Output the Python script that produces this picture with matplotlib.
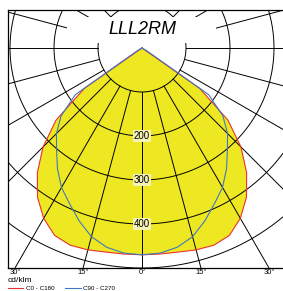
import numpy as np
import matplotlib
matplotlib.use("Agg")
import matplotlib.pyplot as plt
from matplotlib.patches import Rectangle, Polygon
from matplotlib.lines import Line2D
import matplotlib.transforms as mtransforms

plt.rcParams['font.family'] = ['Liberation Sans', 'DejaVu Sans']

# ---- data (cd/klm) ----
title = "LLL2RM"
gamma = [0, 5, 10, 15, 20, 25, 30, 35, 40, 45, 50, 55, 60, 65, 70, 75, 80, 85, 90,
         95, 100, 105, 110, 115, 120, 125, 130, 135, 140, 145, 150, 155, 160, 165, 170, 175, 180]
c0_c180 = [470, 470, 471, 475, 477, 470, 447, 414, 370, 318, 255, 160, 0, 0, 0, 0, 0, 0, 0,
           0, 0, 0, 0, 0, 0, 0, 0, 0, 0, 0, 0, 0, 0, 0, 0, 0, 0]
c90_c270 = [470, 468, 460, 444, 418, 390, 366, 335, 302, 275, 240, 185, 12, 0, 0, 0, 0, 0, 0,
            0, 0, 0, 0, 0, 0, 0, 0, 0, 0, 0, 0, 0, 0, 0, 0, 0, 0]
circle_values = [100, 200, 300, 400, 500]
circle_labels = [200, 300, 400]
bottom_angles = [-30, -15, 0, 15, 30]
unit_label = "cd/klm"
legend_labels = ["C0 - C180", "C90 - C270"]

W, H = 283, 291
fig = plt.figure(figsize=(W / 100, H / 100), dpi=100)

cx, cy = 142, 48          # pixel position of the luminaire centre
PX = 100 / 44.0            # cd/klm per pixel
l_px, r_px, t_px, b_px = 8, 286, 10, 268
ax = fig.add_axes([l_px / W, 1 - b_px / H, (r_px - l_px) / W, (b_px - t_px) / H])
ax.set_xlim((l_px - cx) * PX, (r_px - cx) * PX)
ax.set_ylim(-(b_px - cy) * PX, (cy - t_px) * PX)
ax.set_xticks([])
ax.set_yticks([])
for s in ['left', 'top', 'bottom']:
    ax.spines[s].set_linewidth(0.9)
    ax.spines[s].set_color('black')
ax.spines['right'].set_visible(False)

g = np.radians(np.array(gamma, dtype=float))

def curve(vals):
    v = np.array(vals, dtype=float)
    xl = -v[::-1] * np.sin(g[::-1])
    yl = -v[::-1] * np.cos(g[::-1])
    xr = v[1:] * np.sin(g[1:])
    yr = -v[1:] * np.cos(g[1:])
    return np.concatenate([xl, xr]), np.concatenate([yl, yr])

# fill
xr_, yr_ = curve(c0_c180)
ax.add_patch(Polygon(np.column_stack([xr_, yr_]), closed=True, fc='#eee822', ec='none', zorder=1))

# grid
t = np.linspace(0, 2 * np.pi, 720)
for r in circle_values:
    ax.plot(r * np.sin(t), r * np.cos(t), color='black', lw=0.7, zorder=2)
for a in range(0, 360, 15):
    ar = np.radians(a)
    ax.plot([100 * np.sin(ar), 2000 * np.sin(ar)], [-100 * np.cos(ar), -2000 * np.cos(ar)],
            color='black', lw=0.7, zorder=2)

# title mask
ax.add_patch(Rectangle(((67 - cx) * PX, (cy - 43) * PX), (216 - 67) * PX, (43 - 17) * PX,
                       fc='white', ec='none', zorder=3))
ax.text(0, (cy - 30) * PX, title, ha='center', va='center', fontsize=13, style='italic', zorder=6)

# curves
ax.plot(xr_, yr_, color='#e8322e', lw=0.8, zorder=4)
xb, yb = curve(c90_c270)
ax.plot(xb, yb, color='#3f78c0', lw=0.8, zorder=4)

for v in circle_labels:
    ax.text(0, -v, str(v), ha='center', va='center', fontsize=7, zorder=6,
            bbox=dict(boxstyle='square,pad=0.12', fc='#f6f3b6', ec='none'))

# bottom angle labels
trans = mtransforms.blended_transform_factory(ax.transData, fig.transFigure)
ylim_bottom = -(b_px - cy) * PX
for a in bottom_angles:
    xx = -ylim_bottom * np.tan(np.radians(a))
    fig.text(xx, 1 - 273 / H, "%d°" % abs(a), transform=trans, fontsize=5.5,
             ha='center', va='center')

fig.text(8 / W, 1 - 281 / H, unit_label, fontsize=6, ha='left', va='center')
fig.add_artist(Line2D([8 / W, 23 / W], [1 - 288 / H] * 2, color='#e8322e', lw=0.8))
fig.text(26 / W, 1 - 288 / H, legend_labels[0], fontsize=4.5, ha='left', va='center')
fig.add_artist(Line2D([65 / W, 81 / W], [1 - 288 / H] * 2, color='#3f78c0', lw=0.8))
fig.text(83 / W, 1 - 288 / H, legend_labels[1], fontsize=4.5, ha='left', va='center')

fig.savefig('out.png', dpi=100, facecolor='white')
